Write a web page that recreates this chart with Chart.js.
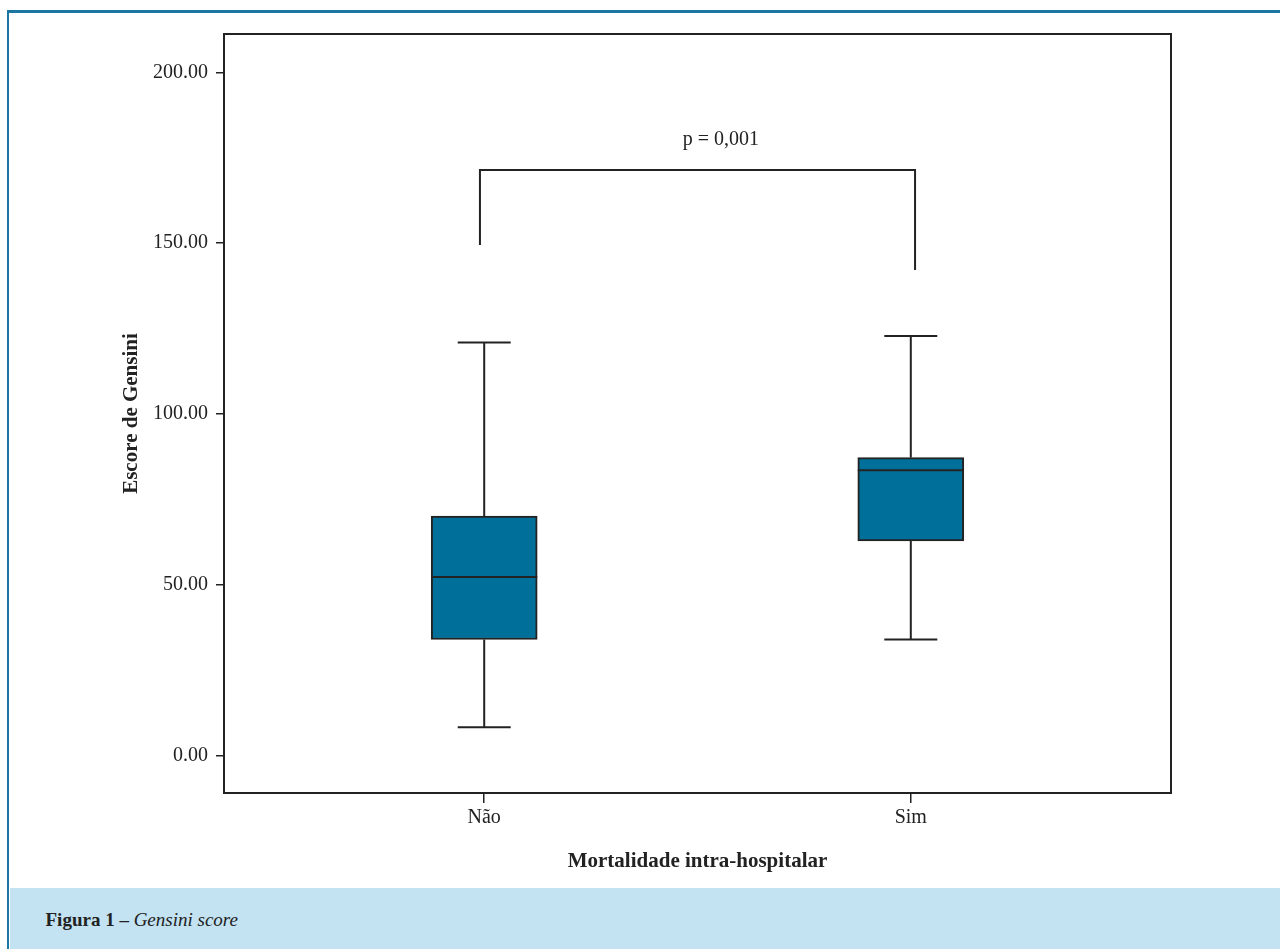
<!doctype html>
<html lang="pt">
<head>
  <meta charset="utf-8">
  <title>Escore de Gensini</title>
  <script src="https://cdn.jsdelivr.net/npm/chart.js"></script>
  <style>
    body { margin: 0; width: 1280px; height: 949px; background: #fff; position: relative; overflow: hidden;
           font-family: "Liberation Serif", serif; color: #222; }
    .frame { position: absolute; left: 7px; top: 10px; right: 0; bottom: 0;
             border-top: 3px solid #1b76a2; border-left: 2.5px solid #1b76a2; }
    .caption { position: absolute; left: 9.5px; top: 888px; right: 0; bottom: 0; background: #c3e2f2; }
    .caption p { position: absolute; left: 36px; top: 20px; margin: 0; font-size: 19px; line-height: 24px; }
    #chart { position: absolute; left: 0; top: 0; }
  </style>
</head>
<body>
  <div class="frame"></div>
  <div class="caption"><p><b>Figura 1 –</b> <i>Gensini score</i></p></div>
  <canvas id="chart" width="1280" height="949"></canvas>

  <script>
    // groups and their positions on the x axis
    const categories = ['Não', 'Sim'];
    const xPos = [1, 2];

    // box plot statistics
    const whiskerLow = [8.4, 34.1];
    const q1 = [34.1, 62.9];
    const median = [52.4, 83.6];
    const q3 = [70.2, 87.3];
    const whiskerHigh = [121.0, 122.9];

    const yTicks = [0, 50, 100, 150, 200];

    // significance bracket
    const bracketX = [0.99, 2.01];
    const bracketTop = 171.4;
    const bracketLegEnd = [149.5, 142.2];
    const pText = 'p = 0,001';
    const pAt = [1.555, 180.2];

    const ink = '#222';
    const boxWidth = 106;
    const capWidth = 53;

    Chart.defaults.font.family = "'Liberation Serif', serif";
    Chart.defaults.font.size = 20;
    Chart.defaults.color = ink;

    const boxPlot = {
      id: 'boxPlot',
      afterDatasetsDraw(chart) {
        const ctx = chart.ctx;
        const xs = chart.scales.x, ys = chart.scales.y;
        ctx.save();
        ctx.strokeStyle = ink;
        ctx.lineWidth = 2;
        ctx.lineCap = 'butt';
        xPos.forEach((v, i) => {
          const x = xs.getPixelForValue(v);
          const seg = (x1, y1, x2, y2) => {
            ctx.beginPath(); ctx.moveTo(x1, y1); ctx.lineTo(x2, y2); ctx.stroke();
          };
          // median
          seg(x - boxWidth / 2, ys.getPixelForValue(median[i]), x + boxWidth / 2, ys.getPixelForValue(median[i]));
          // whiskers
          seg(x, ys.getPixelForValue(q3[i]), x, ys.getPixelForValue(whiskerHigh[i]));
          seg(x, ys.getPixelForValue(q1[i]), x, ys.getPixelForValue(whiskerLow[i]));
          // caps
          seg(x - capWidth / 2, ys.getPixelForValue(whiskerHigh[i]), x + capWidth / 2, ys.getPixelForValue(whiskerHigh[i]));
          seg(x - capWidth / 2, ys.getPixelForValue(whiskerLow[i]), x + capWidth / 2, ys.getPixelForValue(whiskerLow[i]));
        });

        // bracket with p value
        const bx0 = xs.getPixelForValue(bracketX[0]), bx1 = xs.getPixelForValue(bracketX[1]);
        const by = ys.getPixelForValue(bracketTop);
        ctx.beginPath();
        ctx.moveTo(bx0, ys.getPixelForValue(bracketLegEnd[0]));
        ctx.lineTo(bx0, by);
        ctx.lineTo(bx1, by);
        ctx.lineTo(bx1, ys.getPixelForValue(bracketLegEnd[1]));
        ctx.stroke();
        ctx.fillStyle = ink;
        ctx.font = "20px 'Liberation Serif', serif";
        ctx.textAlign = 'center';
        ctx.textBaseline = 'middle';
        ctx.fillText(pText, xs.getPixelForValue(pAt[0]), ys.getPixelForValue(pAt[1]));

        // plot frame
        const a = chart.chartArea;
        ctx.strokeRect(a.left, a.top, a.right - a.left, a.bottom - a.top);
        ctx.restore();
      }
    };

    new Chart(document.getElementById('chart'), {
      type: 'bar',
      data: {
        datasets: [{
          data: xPos.map((x, i) => ({ x: x, y: [q1[i], q3[i]] })),
          backgroundColor: '#00709b',
          borderColor: ink,
          borderWidth: 2,
          borderSkipped: false,
          barThickness: boxWidth
        }]
      },
      options: {
        responsive: false,
        animation: false,
        devicePixelRatio: 1,
        layout: { padding: { left: 0, top: 34, right: 109, bottom: 64 } },
        plugins: { legend: { display: false }, tooltip: { enabled: false } },
        scales: {
          x: {
            type: 'linear',
            offset: false,
            min: 0.39,
            max: 2.61,
            afterBuildTicks: s => { s.ticks = xPos.map(v => ({ value: v })); },
            afterFit: s => { s.height = 92; },
            ticks: {
              padding: 3,
              callback: v => categories[xPos.indexOf(v)] || ''
            },
            grid: { offset: false, drawOnChartArea: false, drawTicks: true, tickLength: 10, color: ink, lineWidth: 1.5 },
            border: { display: false },
            title: {
              display: true,
              text: 'Mortalidade intra-hospitalar',
              font: { size: 21, weight: 'bold' },
              padding: { top: 0, bottom: 11 }
            }
          },
          y: {
            min: -10.8,
            max: 211.2,
            afterBuildTicks: s => { s.ticks = yTicks.map(v => ({ value: v })); },
            afterFit: s => { s.width = 224; },
            ticks: { padding: 8, callback: v => v.toFixed(2) },
            grid: { drawOnChartArea: false, drawTicks: true, tickLength: 8, color: ink, lineWidth: 1.5 },
            border: { display: false },
            title: {
              display: true,
              text: 'Escore de Gensini',
              font: { size: 21, weight: 'bold' },
              padding: { top: 119, bottom: 0 }
            }
          }
        }
      },
      plugins: [boxPlot]
    });
  </script>
</body>
</html>
